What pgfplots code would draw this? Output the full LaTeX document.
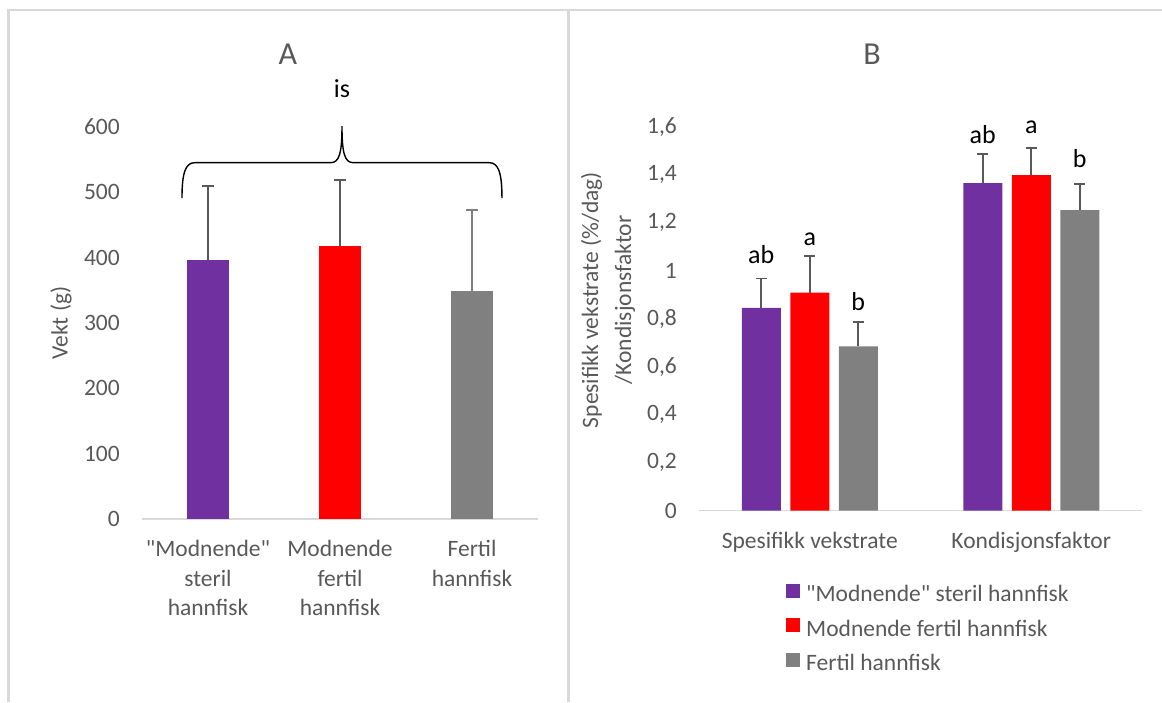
\documentclass[border=0pt]{standalone}
\usepackage{fontspec}
\setmainfont{Carlito}[Ligatures=TeXOff]
\usepackage{pgfplots}
\pgfplotsset{compat=1.18}
\definecolor{cpurple}{HTML}{7030A0}
\definecolor{cred}{HTML}{FF0000}
\definecolor{cgray}{HTML}{808080}
\definecolor{ctext}{HTML}{595959}
\definecolor{cline}{HTML}{D9D9D9}
\definecolor{cerr}{HTML}{595959}
\newcommand\tfont{\fontsize{23.5pt}{29.5pt}\selectfont}
\newcommand\lfont{\fontsize{26pt}{30pt}\selectfont}
\newcommand\hfont{\fontsize{32pt}{36pt}\selectfont}
\pgfplotsset{
  errstyle/.style={error bars/.cd, y dir=plus, y explicit,
    error bar style={#1, line width=1.8pt},
    error mark options={#1, rotate=90, mark size=5.7pt, line width=1.8pt}},
  common/.style={scale only axis, clip=false,
    axis lines*=left,
    x axis line style={cline, line width=1.5pt, -},
    y axis line style={draw=none},
    major tick length=0pt,
    tick style={draw=none},
    ticklabel style={font=\tfont, text=ctext},
    yticklabel style={inner sep=0pt, xshift=-22pt},
    xticklabel style={align=center, inner sep=0pt, yshift=-21pt},
  }
}
\begin{document}
\begin{tikzpicture}
\path[use as bounding box] (0pt,0pt) rectangle (1162pt,702pt);
% panel frames
\draw[cline, line width=2.5pt] (8.5pt,0pt) -- (8.5pt,692pt) -- (1162pt,692pt);
\draw[cline, line width=2.5pt] (568.5pt,0pt) -- (568.5pt,692pt);
% titles and y labels
\node[anchor=base, font=\hfont, text=ctext] at (288pt,637pt) {A};
\node[anchor=base, font=\hfont, text=ctext] at (872pt,637pt) {B};
\node[rotate=90, font=\tfont, text=ctext] at (61pt,379pt) {Vekt (g)};
\node[rotate=90, font=\fontsize{23.5pt}{33pt}\selectfont, text=ctext, align=center] at (608pt,402pt) {Spesifikk vekstrate (\%/dag)\\/Kondisjonsfaktor};

% ---------------- Panel A ----------------
\begin{axis}[common,
  at={(142pt,182.8pt)}, anchor=south west,
  width=396pt, height=392.5pt,
  xmin=-0.5, xmax=2.5, ymin=0, ymax=600,
  ytick={0,100,200,300,400,500,600},
  yticklabels={0,100,200,300,400,500,600},
  xtick={0,1,2},
  xticklabels={{"Modnende"\\steril\\hannfisk},{Modnende\\fertil\\hannfisk},{Fertil\\hannfisk}},
  ybar, bar width=42pt,
]
\addplot[fill=cpurple, draw=none, bar shift=0pt, errstyle=cerr]
  coordinates {(0,396) +- (0,113)};
\addplot[fill=cred, draw=none, bar shift=0pt, errstyle=cerr]
  coordinates {(1,417) +- (0,102)};
\addplot[fill=cgray, draw=none, bar shift=0pt, errstyle=cgray]
  coordinates {(2,349) +- (0,124)};
% brace
\draw[black, line width=1.4pt]
  (axis cs:-0.197,491) .. controls (axis cs:-0.197,530) and (axis cs:-0.17,545) .. (axis cs:-0.10,545)
  -- (axis cs:0.93,545) .. controls (axis cs:0.995,545) and (axis cs:1.015,560) .. (axis cs:1.015,601)
  .. controls (axis cs:1.015,560) and (axis cs:1.035,545) .. (axis cs:1.10,545)
  -- (axis cs:2.13,545) .. controls (axis cs:2.20,545) and (axis cs:2.227,530) .. (axis cs:2.227,491);
\node[anchor=base, font=\lfont] at (axis cs:1.015,645) {is};
\end{axis}

% ---------------- Panel B ----------------
\begin{axis}[common,
  at={(699pt,191.5pt)}, anchor=south west,
  width=443pt, height=383.5pt,
  xmin=-0.5, xmax=1.5, ymin=0, ymax=1.6,
  ytick={0,0.2,0.4,0.6,0.8,1,1.2,1.4,1.6},
  yticklabels={0,{0,2},{0,4},{0,6},{0,8},1,{1,2},{1,4},{1,6}},
  xtick={0,1},
  xticklabels={Spesifikk vekstrate,Kondisjonsfaktor},
  ybar=9.5pt, bar width=39pt,
  legend cell align=left,
  legend image code/.code={\path[#1, draw=none] (0pt,-3.5pt) rectangle (14pt,10.5pt);},
  legend style={at={(0.1964,-0.191)}, anchor=north west, draw=none, fill=none,
    font=\tfont, text=ctext, inner sep=0pt, row sep=15pt,
    nodes={inner sep=0pt},
    /tikz/every even column/.append style={column sep=0pt},
    /tikz/every odd column/.append style={column sep=6pt}},
]
\addplot[fill=cpurple, draw=none, errstyle=cerr]
  coordinates {(0,0.845) +- (0,0.123) (1,1.366) +- (0,0.121)};
\addlegendentry{"Modnende" steril hannfisk}
\addplot[fill=cred, draw=none, errstyle=cerr]
  coordinates {(0,0.909) +- (0,0.152) (1,1.399) +- (0,0.112)};
\addlegendentry{Modnende fertil hannfisk}
\addplot[fill=cgray, draw=none, errstyle=cerr]
  coordinates {(0,0.685) +- (0,0.100) (1,1.253) +- (0,0.109)};
\addlegendentry{Fertil hannfisk}
\node[anchor=base, font=\lfont] at (axis cs:-0.219,1.032) {ab};
\node[anchor=base, font=\lfont] at (axis cs:0,1.107) {a};
\node[anchor=base, font=\lfont] at (axis cs:0.219,0.835) {b};
\node[anchor=base, font=\lfont] at (axis cs:0.781,1.533) {ab};
\node[anchor=base, font=\lfont] at (axis cs:1,1.571) {a};
\node[anchor=base, font=\lfont] at (axis cs:1.219,1.429) {b};
\end{axis}
\end{tikzpicture}
\end{document}
